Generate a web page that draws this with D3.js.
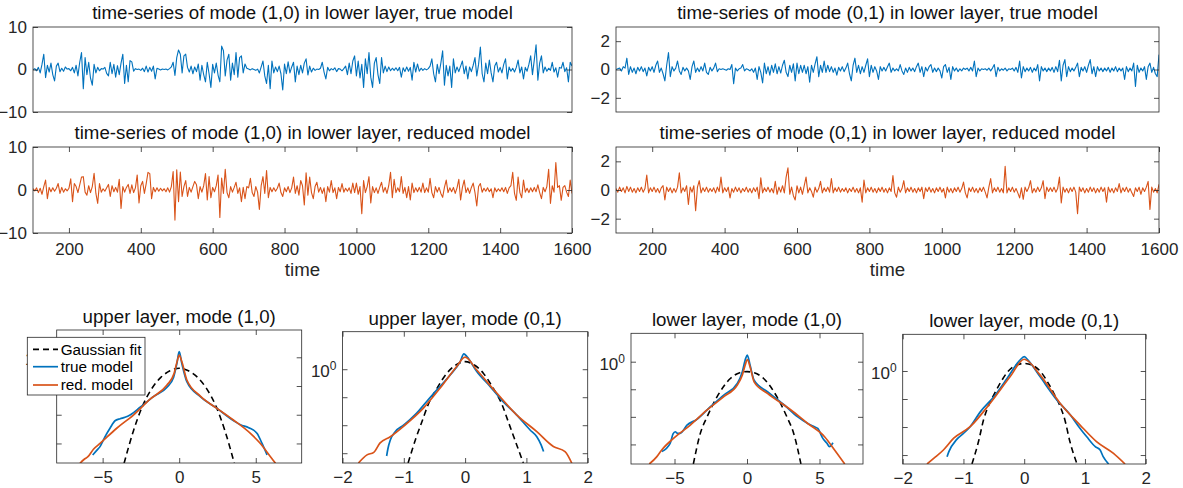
<!DOCTYPE html>
<html><head><meta charset="utf-8">
<script src="https://cdn.jsdelivr.net/npm/d3@7"></script>
<style>
html,body{margin:0;padding:0;background:#fff;}
svg{display:block;font-family:"Liberation Sans",Arial,Helvetica,sans-serif;}
</style></head><body>
<svg id="fig" width="1183" height="488"></svg>
<script>
// ---------------- DATA ----------------
const timeStart = 100, timeEnd = 1600, timeStep = 5;
const timeTicks = [200, 400, 600, 800, 1000, 1200, 1400, 1600];
const yTicksMode10 = [-10, 0, 10];
const yTicksMode01 = [-2, 0, 2];

// lower layer, mode (1,0), true model (values every 5 time units from t=100)
const trueMode10 = [
 0,0.2,-0.3,0.5,-0.8,1.2,3.6,-1.9,1.0,-0.6,1.5,-1.2,-2.7,0.8,1.5,-0.5,0.3,-0.4,0.6,0.1,
 0.2,-0.3,0.5,-0.8,1.0,-1.5,1.7,4.0,-4.5,2.8,-1.2,1.7,-2.0,-3.7,1.2,-0.8,0.5,-0.3,0.2,0.1,
 0.5,-0.9,-1.5,1.7,-1.0,1.2,-1.8,0.9,-1.2,1.5,3.6,-3.3,1.0,-2.9,2.1,1.8,-0.4,0.2,0.0,0.1,
 -0.2,0.3,-0.5,0.8,-0.6,0.5,-0.4,0.8,-2.2,0.3,0.1,-0.1,0.1,0.0,0.1,-0.1,0.2,0.6,1.7,-1.4,
 2.8,4.6,3.6,-0.8,3.2,3.6,0.5,-0.6,0.8,-1.0,0.6,-0.5,1.3,-2.5,1.0,-1.2,-2.9,1.7,-1.0,-4.2,
 1.2,-0.8,1.5,-1.3,-2.9,5.5,4.4,-1.5,2.2,3.6,-2.5,1.5,-1.2,4.0,-1.8,2.8,3.2,-0.8,1.3,0.3,
 0.1,-0.1,0.2,0.0,-0.2,0.1,-0.8,0.6,2.0,-1.5,-3.3,1.0,-4.5,2.0,-0.8,0.6,-0.5,0.8,-1.0,-4.8,
 1.3,-1.0,1.8,-0.8,0.6,1.7,-2.9,0.8,-1.2,1.0,-0.8,1.5,2.5,-1.3,0.8,-0.6,0.3,-0.2,0.1,0.0,
 0.3,1.7,-0.6,-2.2,0.5,-0.3,0.2,-0.1,0.4,-0.5,0.2,0.1,-0.3,0.2,0.8,-1.2,1.5,-1.0,2.0,3.2,
 -1.5,2.0,-2.0,1.2,-4.2,2.5,-1.0,4.0,-1.8,-4.2,1.5,2.8,-1.2,-3.3,2.8,-0.8,0.8,-0.5,0.6,-0.3,
 0.3,-0.2,0.4,-0.3,0.5,-1.8,0.4,-0.5,0.6,-0.4,0.5,-2.5,1.7,-0.6,1.3,-0.4,0.3,-0.2,0.2,-0.1,
 0.2,0.8,2.5,-1.0,-2.9,1.2,-1.0,1.5,4.4,-3.7,1.0,-1.5,0.8,-4.2,2.5,-0.8,0.6,-0.5,0.8,2.0,
 -1.0,0.8,-2.2,0.6,-0.5,1.0,2.8,-1.5,1.2,5.3,-1.0,-2.9,1.5,-1.0,2.2,-0.8,-2.9,0.8,1.7,-0.6,
 0.5,-0.8,1.2,2.5,-2.2,0.6,-0.4,0.3,-0.6,0.5,2.2,-0.8,0.6,-2.2,0.5,-0.4,1.2,3.2,-1.2,2.2,
 5.8,-2.5,1.5,3.2,-0.8,0.6,-0.4,0.3,-0.2,1.7,-0.6,0.4,-1.8,0.5,0.3,1.7,-0.5,0.4,-2.9,1.7,0.8
];
// lower layer, mode (1,0), reduced model
const redMode10 = [
 0.3,-0.2,0.5,-0.6,0.4,-1.0,0.8,2.3,-2.0,0.6,-0.4,0.5,-0.3,0.4,1.5,-0.8,0.6,-0.5,0.3,-0.2,
 0.4,2.6,-2.7,1.5,0.8,-0.6,1.2,3.0,3.1,-0.5,-1.2,1.0,-0.6,0.8,3.9,-0.8,-3.1,1.5,-0.5,0.3,
 -0.3,0.5,1.3,-1.5,1.0,-0.4,0.6,-0.5,2.5,-4.3,0.8,-0.5,0.6,1.3,-0.8,1.2,-0.6,0.5,3.5,-3.0,
 1.0,2.0,-0.8,1.5,4.1,3.8,-2.0,0.6,-0.4,0.5,-0.3,0.4,-0.2,0.3,-0.4,0.5,-0.5,0.8,4.3,-7.0,
 4.7,-2.7,4.2,-1.5,0.8,2.2,-1.5,0.6,-0.5,0.8,2.0,1.2,-2.0,0.8,-0.5,1.0,3.8,-2.3,3.1,-1.8,
 0.6,-0.4,1.0,3.5,-6.4,2.8,-0.8,4.8,-0.6,-1.8,0.8,-0.5,0.6,1.8,-0.8,0.5,-2.7,0.6,-2.0,0.8,
 0.5,2.7,-0.6,-1.5,0.8,-0.5,-4.5,1.0,3.1,-0.8,4.5,-1.8,0.6,-0.4,0.5,-0.3,0.4,1.6,-0.6,-1.5,
 0.5,-0.4,0.8,-0.6,0.5,3.0,-0.8,1.0,-1.2,2.2,1.0,-3.5,4.0,-1.2,3.0,-0.6,-2.0,0.8,1.8,-0.5,
 0.6,-0.8,0.5,-2.7,0.8,-0.5,2.2,-0.6,0.5,-2.0,0.6,-0.4,1.5,-0.5,0.4,-0.3,0.5,-0.8,1.6,-0.6,
 1.6,-1.0,0.8,-5.5,2.2,-0.6,0.8,3.1,-3.0,0.8,-0.6,0.5,-0.8,0.6,1.8,-0.5,0.6,-0.8,1.0,4.1,
 -1.8,2.5,-0.6,0.5,-0.4,3.1,-0.8,0.6,-1.8,0.8,-2.3,1.6,-0.6,0.5,-0.4,0.6,-0.5,1.6,-0.6,0.5,
 -0.5,2.7,-0.6,-1.8,0.8,-0.5,0.6,-0.8,-1.7,0.6,2.3,-0.6,0.5,-0.4,0.6,-0.8,0.5,2.5,-2.3,0.6,
 2.3,-0.6,0.5,-0.8,0.6,1.6,-0.6,-3.7,0.8,1.5,-0.5,0.4,-0.3,0.5,-0.4,0.3,-1.8,0.5,-0.4,0.3,
 -0.3,0.5,-0.4,0.6,-0.8,0.5,1.0,4.1,-0.8,-2.4,3.0,-0.6,-1.8,2.3,-0.5,0.4,-0.6,0.5,-0.4,0.6,
 -0.4,1.2,-0.6,-2.0,0.6,-0.4,0.8,4.8,-3.1,1.0,-0.5,6.4,0.6,1.0,-2.4,0.6,1.0,-0.5,-1.5,2.3,-0.8
];
// lower layer, mode (0,1), true model
const trueMode01 = [
 0.0,0.05,0.1,-0.1,0.2,0.1,0.8,-0.35,0.2,-0.2,0.1,-0.3,0.15,-0.1,0.2,-0.15,0.1,-0.45,0.15,-0.1,
 0.2,-0.2,0.3,0.6,-0.2,0.1,-0.3,-0.8,0.3,1.2,-0.5,0.2,-0.1,0.1,0.6,-0.1,-0.35,0.15,-0.1,0.1,
 -0.1,-0.7,0.2,0.6,-0.2,0.1,-0.15,0.2,-0.1,0.45,-0.2,-0.35,0.15,-0.1,0.1,0.45,-0.15,0.05,0.0,0.05,
 0.0,-0.05,0.05,0.0,0.35,-1.0,0.1,-0.1,0.05,0.1,0.35,-0.1,0.05,0.0,-0.1,0.05,-0.2,0.1,-0.7,0.2,
 -0.2,-0.95,0.45,-0.3,0.2,-0.4,0.3,-0.2,0.4,-0.3,0.2,-0.25,0.3,0.65,-0.2,-0.5,0.3,-0.2,0.4,-0.8,
 0.45,-0.3,0.3,-0.2,0.3,-0.3,0.2,-0.9,0.3,-0.2,0.4,0.9,-0.5,0.3,-0.2,0.6,-0.2,0.3,-0.15,0.2,
 -0.2,0.1,-0.4,0.15,-0.1,0.2,-0.15,0.1,0.45,-0.3,-0.8,0.3,0.8,-0.2,0.3,-0.3,0.2,-0.2,0.3,0.75,
 -0.5,0.3,-0.2,0.2,-0.1,-0.7,0.2,-0.1,0.15,-0.1,0.2,0.45,-0.2,0.1,-0.1,0.05,-0.1,0.35,-0.1,-0.35,
 0.1,-0.2,0.15,-0.1,0.1,-0.15,0.2,0.45,-0.2,0.2,-0.5,0.15,-0.1,0.2,0.35,-0.2,0.1,-0.15,0.1,-0.1,
 -0.6,0.2,0.35,-0.2,0.15,-0.7,0.2,-0.1,0.1,-0.15,0.05,-0.1,0.1,0.0,0.1,-0.1,0.15,-0.1,0.6,-0.5,
 0.1,-0.1,0.05,0.0,0.05,-0.05,0.1,-0.1,0.1,0.35,-0.5,0.15,-0.1,0.05,-0.05,0.1,-0.1,0.05,0.0,0.1,
 -0.1,0.15,-0.2,0.6,-0.6,0.2,-0.15,0.1,-0.1,0.15,-0.2,0.1,-0.1,0.35,-0.8,0.2,-0.1,0.1,-0.15,0.1,
 -0.1,0.15,-0.2,0.2,-0.15,0.65,-0.8,0.3,0.7,-0.5,0.2,-0.15,0.1,-0.1,0.15,0.45,-0.5,0.15,-0.1,0.2,
 -0.2,0.3,0.7,-0.3,0.2,-0.5,0.2,-0.1,0.1,-0.15,0.1,-0.1,0.15,-0.2,0.1,-0.1,0.2,-0.15,0.1,-0.1,
 0.1,-0.7,0.2,-0.15,0.1,-0.1,0.45,-1.2,0.3,-0.2,0.1,-0.1,0.2,-0.7,0.2,0.45,-0.2,0.15,-0.3,-0.5,1.05
];
// lower layer, mode (0,1), reduced model
const redMode01 = [
 0.1,-0.15,0.2,-0.1,0.15,-0.2,0.25,-0.1,0.2,-0.15,0.1,-0.2,0.15,-0.1,0.2,-0.15,0.1,1.05,-0.2,0.15,
 -0.1,0.2,-0.15,0.1,-0.2,0.15,0.3,-0.7,0.2,-0.1,0.15,-0.2,0.1,-0.15,0.2,1.2,-0.2,0.15,-0.1,0.3,
 -1.0,0.2,-0.15,0.3,-1.45,0.2,0.65,-0.2,0.15,-0.1,0.2,-0.15,0.1,-0.1,0.15,-0.2,0.2,-0.1,0.9,-0.2,
 0.15,-0.1,0.2,-0.55,0.1,-0.15,0.2,-0.1,0.15,-0.2,0.1,-0.1,0.2,-0.15,0.1,-0.2,0.15,-0.1,0.2,-0.6,
 0.85,-0.2,0.15,-0.1,0.2,-0.15,0.1,-0.2,0.6,-0.3,0.2,-0.15,0.3,-0.2,0.9,1.55,-0.3,0.2,-0.4,-0.7,
 0.3,-0.2,0.2,-0.3,0.3,0.9,-0.2,0.15,-0.1,-0.5,0.2,-0.15,0.1,0.6,-0.2,0.15,-0.1,0.2,-0.15,0.8,
 -0.2,0.15,-0.1,0.2,-0.15,0.1,-0.1,0.15,-0.2,0.1,-0.1,0.2,-0.15,0.1,-0.2,0.15,-0.85,0.7,-0.2,0.15,
 -0.1,0.2,-0.15,0.1,-0.2,0.15,-0.1,0.2,-0.15,0.1,-0.2,0.15,-0.1,1.0,-0.2,-0.5,0.2,-0.15,0.1,0.65,
 -0.2,0.15,-0.1,0.2,-0.15,0.1,-0.2,0.15,-0.1,0.2,-0.6,0.15,-0.1,0.2,-0.15,0.1,-0.2,0.15,-0.1,0.2,
 -0.15,0.1,-0.55,0.2,-0.15,0.1,-0.2,0.15,-0.1,0.2,-0.15,0.1,0.55,-0.2,-0.55,0.15,-0.1,0.2,-0.15,0.1,
 -0.2,0.15,-0.1,0.2,-0.15,-0.55,0.2,0.8,-0.2,0.15,-0.1,0.2,-0.15,0.1,-0.2,1.65,-0.2,0.15,-0.1,0.2,
 -0.15,0.1,-0.2,-0.55,0.15,-0.65,0.2,-0.1,0.15,0.65,-0.2,0.1,-0.15,0.2,-0.1,0.15,0.65,-0.6,0.2,-0.1,
 0.15,-0.1,0.2,-0.15,0.1,0.9,-0.9,0.2,-0.15,0.1,-0.2,0.15,-0.1,0.2,-0.15,-1.65,0.2,-0.1,0.15,-0.2,
 0.1,-0.15,0.2,-0.1,0.15,-0.2,0.1,-0.15,0.2,-0.1,0.15,-0.85,0.2,-0.15,0.1,-0.2,0.15,-0.1,0.45,-0.2,
 0.15,-0.1,0.2,-0.15,0.1,-0.2,-0.45,0.15,-0.1,0.2,-0.3,0.15,-0.1,0.2,0.6,-1.35,0.2,-0.15,0.1,-0.2,0.4
];

// PDFs: [value, log10(probability density)]
const upper10Gauss = [[-3.6,-3.69],[-3.0,-2.58],[-2.4,-1.70],[-1.8,-1.10],[-1.2,-0.70],[-0.6,-0.47],[0,-0.38],[0.6,-0.47],[1.2,-0.70],[1.8,-1.10],[2.4,-1.70],[3.0,-2.58],[3.6,-3.69]];
const upper10True = [[-5.65,-3.40],[-5.4,-3.25],[-5.17,-3.11],[-4.85,-2.77],[-4.52,-2.47],[-4.19,-2.21],[-3.85,-2.14],[-3.54,-2.09],[-3.21,-2.01],[-2.55,-1.74],[-1.68,-1.37],[-0.81,-1.05],[-0.37,-0.70],[-0.15,-0.21],[0,0.20],[0.17,-0.21],[0.5,-0.85],[1.38,-1.37],[2.47,-1.78],[3.56,-2.21],[4.0,-2.35],[4.54,-2.45],[5.09,-2.65],[5.41,-3.0],[5.74,-3.40]];
const upper10Red = [[-6.48,-3.69],[-6.2,-3.55],[-5.96,-3.46],[-5.6,-3.2],[-5.17,-3.0],[-4.08,-2.47],[-2.99,-2.01],[-1.90,-1.46],[-0.81,-0.97],[-0.33,-0.56],[-0.11,-0.09],[0,0.08],[0.17,-0.15],[0.5,-0.79],[1.38,-1.35],[2.47,-1.78],[3.56,-2.19],[4.65,-2.65],[5.30,-3.0],[5.96,-3.46],[6.29,-3.69]];

const upper01Gauss = [[-0.93,-3.35],[-0.8,-2.45],[-0.7,-1.85],[-0.6,-1.25],[-0.45,-0.65],[-0.3,-0.15],[-0.15,0.15],[0,0.27],[0.15,0.15],[0.3,-0.15],[0.45,-0.65],[0.6,-1.25],[0.7,-1.85],[0.8,-2.45],[0.95,-3.35]];
const upper01True = [[-1.28,-3.10],[-1.26,-2.85],[-1.22,-2.53],[-1.14,-2.23],[-1.0,-1.99],[-0.9,-1.8],[-0.79,-1.57],[-0.63,-1.16],[-0.46,-0.74],[-0.24,-0.20],[-0.08,0.27],[-0.02,0.55],[0.03,0.45],[0.19,-0.08],[0.41,-0.62],[0.62,-1.16],[0.84,-1.63],[1.06,-2.17],[1.17,-2.41],[1.24,-2.7],[1.28,-2.94]];
const upper01Red = [[-1.74,-3.35],[-1.60,-3.06],[-1.49,-2.97],[-1.39,-2.64],[-1.22,-2.41],[-1.0,-2.03],[-0.68,-1.39],[-0.41,-0.68],[-0.14,0.09],[0,0.43],[0.19,-0.03],[0.52,-0.86],[0.84,-1.63],[1.17,-2.23],[1.44,-2.76],[1.63,-2.94],[1.74,-3.35]];

const lower10Gauss = [[-3.7,-3.71],[-3.22,-2.6],[-2.75,-2.0],[-2.06,-1.27],[-1.13,-0.6],[-0.5,-0.4],[0,-0.36],[0.5,-0.4],[1.13,-0.6],[2.06,-1.27],[2.75,-2.0],[3.22,-2.6],[3.72,-3.71]];
const lower10True = [[-5.88,-3.26],[-5.30,-2.96],[-5.1,-2.62],[-4.95,-2.54],[-4.78,-2.6],[-4.61,-2.6],[-4.14,-2.30],[-3.45,-2.09],[-2.52,-1.63],[-1.60,-1.21],[-0.67,-0.79],[-0.32,-0.36],[-0.09,0.12],[0.02,0.24],[0.21,-0.12],[0.49,-0.67],[1.41,-1.09],[2.57,-1.57],[3.50,-2.0],[4.19,-2.24],[4.65,-2.36],[4.88,-2.42],[5.23,-2.78],[5.5,-2.95],[5.69,-3.08],[5.93,-2.94]];
const lower10Red = [[-6.74,-3.71],[-6.23,-3.45],[-5.88,-3.20],[-5.07,-2.78],[-3.91,-2.30],[-2.75,-1.75],[-1.60,-1.27],[-0.67,-0.85],[-0.32,-0.48],[-0.09,-0.06],[0.02,0.08],[0.21,-0.18],[0.49,-0.73],[1.41,-1.15],[3.03,-1.75],[4.19,-2.24],[5.35,-2.72],[6.04,-3.20],[6.74,-3.71]];

const lower01Gauss = [[-0.86,-3.32],[-0.75,-2.5],[-0.67,-1.75],[-0.58,-1.2],[-0.5,-0.85],[-0.4,-0.45],[-0.28,-0.05],[-0.14,0.2],[0,0.27],[0.14,0.2],[0.28,-0.05],[0.4,-0.45],[0.5,-0.85],[0.58,-1.2],[0.67,-1.75],[0.75,-2.5],[0.87,-3.32]];
const lower01True = [[-1.27,-3.06],[-1.24,-2.88],[-1.11,-2.44],[-1.0,-2.23],[-0.89,-1.99],[-0.72,-1.45],[-0.50,-0.92],[-0.28,-0.26],[-0.07,0.39],[0,0.51],[0.07,0.37],[0.26,-0.20],[0.54,-1.04],[0.76,-1.57],[0.92,-2.05],[1.03,-2.35],[1.17,-2.70],[1.25,-2.82],[1.30,-3.06],[1.39,-3.32]];
const lower01Red = [[-1.60,-3.32],[-1.49,-3.12],[-1.33,-2.82],[-1.16,-2.40],[-0.89,-1.99],[-0.56,-1.15],[-0.23,-0.20],[0,0.42],[0.26,-0.14],[0.59,-1.15],[0.92,-1.93],[1.19,-2.52],[1.47,-2.94],[1.66,-3.32]];

const pdfTicksWide = [-5, 0, 5];
const pdfTicksNarrow = [-2, -1, 0, 1, 2];
const decadeTicks = [1e-3, 1e-2, 1e-1, 1];
const legendLabels = ["Gaussian fit", "true model", "red. model"];

// ---------------- DRAWING ----------------
const BLUE = "#0072BD", ORANGE = "#D95319", AX = "#262626";
const svg = d3.select("#fig");
const defs = svg.append("defs");
const timeGrid = d3.range(timeStart, timeEnd + 0.001, timeStep);
const fmtNum = d => (d < 0 ? "\u2212" + Math.abs(d) : String(d));
let clipN = 0;

function clip(x0, y0, x1, y1) {
  const id = "clip" + (clipN++);
  defs.append("clipPath").attr("id", id).append("rect")
    .attr("x", x0).attr("y", y0).attr("width", x1 - x0).attr("height", y1 - y0);
  return `url(#${id})`;
}

function styleAxis(sel) {
  sel.select(".domain").remove();
  sel.selectAll(".tick line").attr("stroke", AX).attr("stroke-width", 0.8);
  sel.selectAll(".tick text").attr("fill", AX).attr("font-size", 17)
    .attr("font-family", '"Liberation Sans",Arial,sans-serif');
}

function frame(g, xs, ys, o) {
  const [x0, x1] = xs.range(), [y1, y0] = ys.range();
  if (o.xTicks) {
    g.append("g").attr("transform", `translate(0,${y1})`)
      .call(d3.axisBottom(xs).tickValues(o.xTicks).tickSizeInner(-5).tickSizeOuter(0).tickPadding(o.xPad || 10)
        .tickFormat(o.xLabels ? fmtNum : "")).call(styleAxis);
    g.append("g").attr("transform", `translate(0,${y0})`)
      .call(d3.axisTop(xs).tickValues(o.xTicks).tickSizeInner(-5).tickSizeOuter(0).tickFormat("")).call(styleAxis);
  }
  g.append("g").attr("transform", `translate(${x0},0)`)
    .call(d3.axisLeft(ys).tickValues(o.yTicks).tickSizeInner(-5).tickSizeOuter(0).tickPadding(6)
      .tickFormat(o.yFormat || "")).call(styleAxis);
  g.append("g").attr("transform", `translate(${x1},0)`)
    .call(d3.axisRight(ys).tickValues(o.yTicks).tickSizeInner(-5).tickSizeOuter(0).tickFormat("")).call(styleAxis);
  g.append("rect").attr("x", x0).attr("y", y0).attr("width", x1 - x0).attr("height", y1 - y0)
    .attr("fill", "none").attr("stroke", AX).attr("stroke-width", 0.8);
  if (o.title) {
    g.append("text").attr("x", (x0 + x1) / 2).attr("y", y0 - o.titleGap).attr("text-anchor", "middle")
      .attr("font-size", 18.7).attr("fill", "#111").text(o.title);
  }
}

function tsPanel(values, color, box, ydom, yTicks, title, showX) {
  const xs = d3.scaleLinear().domain([timeStart, timeEnd]).range([box[0], box[2]]);
  const ys = d3.scaleLinear().domain(ydom).range([box[3], box[1]]);
  const g = svg.append("g");
  g.append("path").datum(values).attr("clip-path", clip(...box))
    .attr("fill", "none").attr("stroke", color).attr("stroke-width", 1.1).attr("stroke-linejoin", "round")
    .attr("d", d3.line().x((d, i) => xs(timeGrid[i])).y(d => ys(d)));
  frame(g, xs, ys, {xTicks: showX ? timeTicks : null, xLabels: showX, yTicks: yTicks,
    yFormat: fmtNum, title: title, titleGap: 8, xPad: 10});
  if (showX) {
    g.append("text").attr("x", (box[0] + box[2]) / 2).attr("y", 276).attr("text-anchor", "middle")
      .attr("font-size", 18.7).attr("fill", AX).text("time");
  }
}

const TL = [33, 572], TR = [616, 1159], R1 = [27, 112], R2 = [147, 233];
tsPanel(trueMode10, BLUE, [TL[0], R1[0], TL[1], R1[1]], [-10, 10], yTicksMode10,
  "time-series of mode (1,0) in lower layer, true model", false);
tsPanel(redMode10, ORANGE, [TL[0], R2[0], TL[1], R2[1]], [-10, 10], yTicksMode10,
  "time-series of mode (1,0) in lower layer, reduced model", true);
tsPanel(trueMode01, BLUE, [TR[0], R1[0], TR[1], R1[1]], [-3, 3], yTicksMode01,
  "time-series of mode (0,1) in lower layer, true model", false);
tsPanel(redMode01, ORANGE, [TR[0], R2[0], TR[1], R2[1]], [-3, 3], yTicksMode01,
  "time-series of mode (0,1) in lower layer, reduced model", true);

function pdfPanel(box, xdom, logdom, xTicks, title, gauss, tru, red) {
  const xs = d3.scaleLinear().domain(xdom).range([box[0], box[2]]);
  const ys = d3.scaleLog().domain([Math.pow(10, logdom[0]), Math.pow(10, logdom[1])]).range([box[3], box[1]]);
  const g = svg.append("g");
  const cp = clip(...box);
  const line = d3.line().x(d => xs(d[0])).y(d => ys(Math.pow(10, d[1]))).curve(d3.curveMonotoneX);
  g.append("path").datum(gauss).attr("clip-path", cp).attr("fill", "none").attr("stroke", "#000")
    .attr("stroke-width", 1.6).attr("stroke-dasharray", "6,4").attr("d", line);
  g.append("path").datum(tru).attr("clip-path", cp).attr("fill", "none").attr("stroke", BLUE)
    .attr("stroke-width", 1.7).attr("d", line);
  g.append("path").datum(red).attr("clip-path", cp).attr("fill", "none").attr("stroke", ORANGE)
    .attr("stroke-width", 1.7).attr("d", line);
  frame(g, xs, ys, {xTicks: xTicks, xLabels: true, yTicks: decadeTicks, title: title, titleGap: 7, xPad: 8});
  const lab = g.append("text").attr("x", box[0] - 6).attr("y", ys(1) + 8).attr("text-anchor", "end")
    .attr("font-size", 17).attr("fill", AX);
  lab.append("tspan").text("10");
  lab.append("tspan").attr("font-size", 12).attr("dy", -7).text("0");
  return g;
}

pdfPanel([56.7, 330, 301.7, 463], [-8, 8], [-3.68, 0.95], pdfTicksWide, "upper layer, mode (1,0)",
  upper10Gauss, upper10True, upper10Red);
pdfPanel([342.5, 331.7, 587.7, 463], [-2, 2], [-3.35, 1.34], pdfTicksNarrow, "upper layer, mode (0,1)",
  upper01Gauss, upper01True, upper01Red);
pdfPanel([631, 333.3, 863, 464], [-8, 8], [-3.71, 1.03], pdfTicksWide, "lower layer, mode (1,0)",
  lower10Gauss, lower10True, lower10Red);
pdfPanel([902.7, 334.3, 1145.7, 464], [-2, 2], [-3.32, 1.31], pdfTicksNarrow, "lower layer, mode (0,1)",
  lower01Gauss, lower01True, lower01Red);

// legend (first pdf panel)
const lg = svg.append("g");
lg.append("rect").attr("x", 27.3).attr("y", 337.3).attr("width", 117.7).attr("height", 57.7)
  .attr("fill", "#fff").attr("stroke", AX).attr("stroke-width", 0.8);
const legStyles = [{c: "#000", dash: "6,4"}, {c: BLUE, dash: null}, {c: ORANGE, dash: null}];
const legY = [349.3, 366.7, 385];
legendLabels.forEach((t, i) => {
  lg.append("line").attr("x1", 33).attr("x2", 58).attr("y1", legY[i]).attr("y2", legY[i])
    .attr("stroke", legStyles[i].c).attr("stroke-width", 1.7).attr("stroke-dasharray", legStyles[i].dash);
  lg.append("text").attr("x", 60.7).attr("y", legY[i]).attr("dy", "0.35em").attr("font-size", 15.3)
    .attr("fill", "#000").text(t);
});
</script>
</body></html>
